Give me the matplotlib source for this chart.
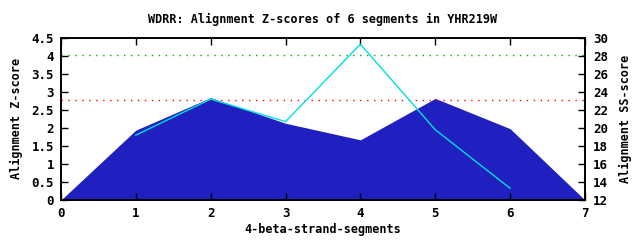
import matplotlib
matplotlib.use('Agg')
import matplotlib.pyplot as plt

# Z-scores (left axis)
seg_x = [0, 1, 2, 3, 4, 5, 6, 7]
zscore = [0, 1.94, 2.84, 2.13, 1.67, 2.82, 1.98, 0]

# SS-scores (right axis)
ss_x = [1, 2, 3, 4, 5, 6]
ss_score = [19.2, 23.2, 20.7, 29.3, 19.8, 13.3]

thr_green = 4.03
thr_red = 2.78

plt.rcParams['font.family'] = 'DejaVu Sans Mono'
plt.rcParams['font.weight'] = 'bold'
plt.rcParams['font.size'] = 8.5

fig = plt.figure(figsize=(6.4, 2.4), dpi=100)
ax = fig.add_axes([0.0953, 0.1667, 0.8187, 0.6755])

ax.fill_between(seg_x, zscore, 0, color='#2020c0', lw=0)
ax.axhline(thr_green, color='#00b000', ls=(0, (1, 4)), lw=1)
ax.axhline(thr_red, color='#ff0000', ls=(0, (1, 4)), lw=1)
ax.set_xlim(0, 7)
ax.set_ylim(0, 4.5)
ax.set_xticks(range(0, 8))
ax.set_yticks([0, 0.5, 1, 1.5, 2, 2.5, 3, 3.5, 4, 4.5])
ax.set_yticklabels(['0', '0.5', '1', '1.5', '2', '2.5', '3', '3.5', '4', '4.5'])
ax.tick_params(direction='in', length=5, width=1, top=True, labelsize=9, pad=5)
ax.set_xlabel('4-beta-strand-segments', fontweight='bold', labelpad=2)
ax.set_ylabel('Alignment Z-score', fontweight='bold', labelpad=6)
ax.set_title('WDRR: Alignment Z-scores of 6 segments in YHR219W', fontweight='bold',
             fontsize=8.5, pad=11)

ax2 = ax.twinx()
ax2.plot(ss_x, ss_score, color='#00e0e0', lw=1)
ax2.set_ylim(12, 30)
ax2.set_yticks(range(12, 31, 2))
ax2.tick_params(direction='in', length=5, width=1, labelsize=9, pad=6)
ax2.set_ylabel('Alignment SS-score', fontweight='bold', labelpad=8)

for a in (ax, ax2):
    for s in a.spines.values():
        s.set_linewidth(1.2)
    for lab in a.get_xticklabels() + a.get_yticklabels():
        lab.set_fontweight('bold')

fig.savefig('out.png', dpi=100)
